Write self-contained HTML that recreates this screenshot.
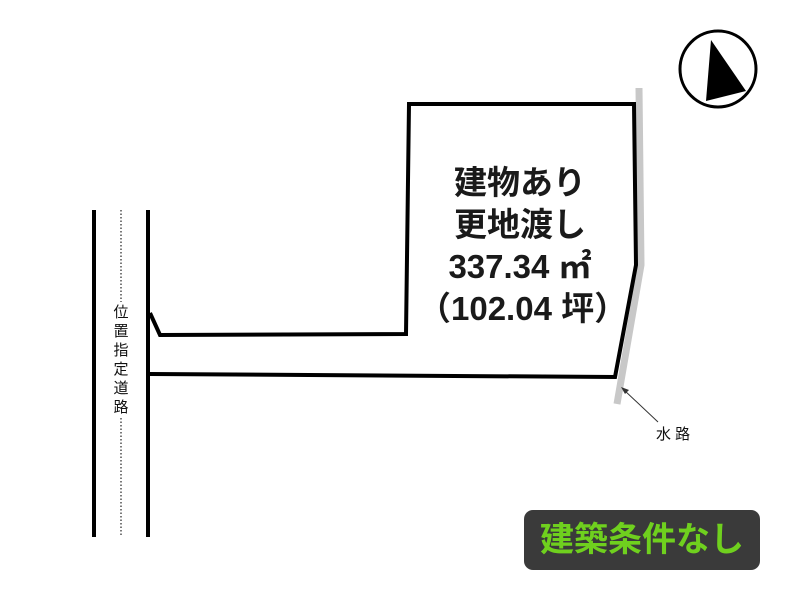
<!DOCTYPE html>
<html><head><meta charset="utf-8"><style>
body{margin:0;width:800px;height:600px;background:#fff;overflow:hidden;position:relative;font-family:"Liberation Sans","Noto Sans CJK JP",sans-serif}
.t{position:absolute;text-align:center;color:#111}
</style></head><body>
<svg width="800" height="600" style="position:absolute;left:0;top:0">
<polyline points="639,88 641,265 617,404" fill="none" stroke="#c8c8c8" stroke-width="7"/>
<polyline points="150,313 160,335 406,334 409,104 634,104 636,265 615,377 150,374" fill="none" stroke="#000" stroke-width="4" stroke-linejoin="miter"/>
<line x1="94" y1="210" x2="94" y2="537" stroke="#000" stroke-width="4"/>
<line x1="148" y1="210" x2="148" y2="537" stroke="#000" stroke-width="4"/>
<line x1="121" y1="210" x2="121" y2="302" stroke="#333" stroke-width="1.3" stroke-dasharray="1.5,2"/>
<line x1="121" y1="418" x2="121" y2="537" stroke="#333" stroke-width="1.3" stroke-dasharray="1.5,2"/>
<circle cx="718" cy="69" r="38" fill="none" stroke="#000" stroke-width="3"/>
<polygon points="711,40 746,91 706,101" fill="#000"/>
<line x1="658" y1="422" x2="624" y2="390" stroke="#333" stroke-width="1"/>
<polygon points="621,387 629,390 625,394" fill="#333"/>
<rect x="524" y="510" width="236" height="60" rx="9" fill="#3a3a3a"/>
</svg>
<div class="t" style="left:418px;top:162px;width:204px;font-size:33px;line-height:42px;font-weight:bold;color:#1a1a1a">建物あり<br>更地渡し<br>337.34 ㎡<br>（102.04 坪）</div>
<div class="t" style="left:110px;top:303px;width:22px;font-size:15px;line-height:19px">位<br>置<br>指<br>定<br>道<br>路</div>
<div class="t" style="left:656px;top:423px;width:50px;font-size:15px;text-align:left">水 路</div>
<div class="t" style="left:524px;top:518px;width:236px;font-size:34px;font-weight:bold;color:#6fd01e;line-height:44px">建築条件なし</div>
</body></html>
